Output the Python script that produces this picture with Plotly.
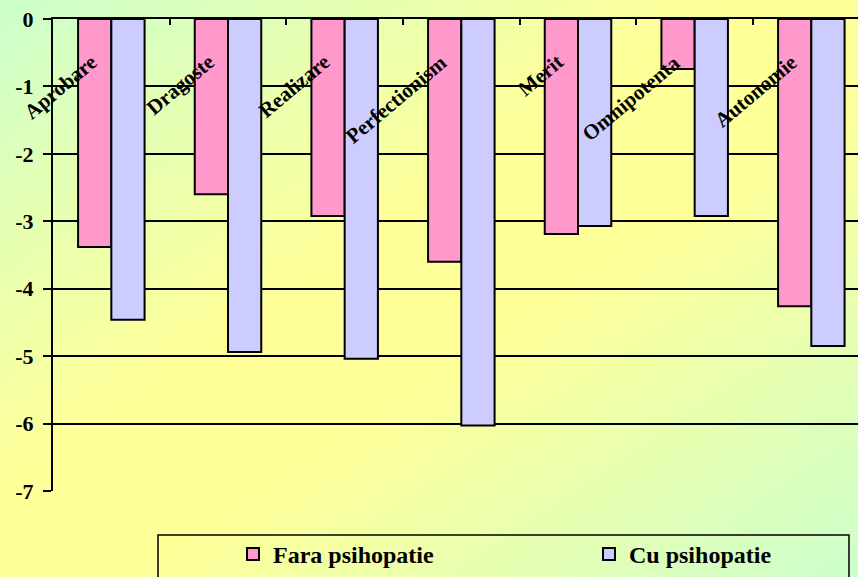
import base64
import plotly.graph_objects as go

# Category names and mean scores for the two groups
categories = ["Aprobare", "Dragoste", "Realizare", "Perfectionism",
              "Merit", "Omnipotenta", "Autonomie"]
fara_psihopatie = [-3.38, -2.60, -2.92, -3.60, -3.19, -0.74, -4.26]
cu_psihopatie = [-4.46, -4.94, -5.04, -6.03, -3.07, -2.92, -4.85]
series_names = ["Fara psihopatie", "Cu psihopatie"]

y_ticks = [0, -1, -2, -3, -4, -5, -6, -7]
y_ticktext = ["0", "-1", "-2", "-3", "-4", "-5", "-6", "-7"]

W, H = 858, 577
FONT = "Liberation Serif, Times New Roman, serif"

# Diagonal green-yellow-green page background as an SVG gradient
svg = (
    '<svg xmlns="http://www.w3.org/2000/svg" width="858" height="577" '
    'preserveAspectRatio="none" viewBox="0 0 858 577">'
    '<defs><linearGradient id="g" x1="0" y1="0" x2="1" y2="1">'
    '<stop offset="0" stop-color="#CCFFCC"/>'
    '<stop offset="0.42" stop-color="#FFFF99"/>'
    '<stop offset="0.58" stop-color="#FFFF99"/>'
    '<stop offset="1" stop-color="#CCFFCC"/>'
    '</linearGradient></defs>'
    '<rect width="858" height="577" fill="url(#g)"/></svg>'
)
bg_uri = "data:image/svg+xml;base64," + base64.b64encode(svg.encode()).decode()

fig = go.Figure()
fig.add_trace(go.Bar(
    x=categories, y=fara_psihopatie, name="<b>" + series_names[0] + "</b>",
    legend="legend",
    marker=dict(color="#FF99CC", line=dict(color="black", width=2)),
))
fig.add_trace(go.Bar(
    x=categories, y=cu_psihopatie, name="<b>" + series_names[1] + "</b>",
    legend="legend2",
    marker=dict(color="#CCCCFF", line=dict(color="black", width=2)),
))

# Rotated category labels hanging just under the zero line
for i, name in enumerate(categories):
    fig.add_annotation(
        x=i, y=0, xref="x", yref="y", text=name, showarrow=False,
        textangle=-40, xanchor="right", yanchor="top",
        xshift=-7, yshift=-28,
        font=dict(family=FONT, size=21, color="black", weight="bold"),
    )

x0 = 53 / W
y_top = 1 - 19 / H
y_bot = 1 - 491 / H

legend_common = dict(
    orientation="h", xanchor="left", yanchor="bottom", y=0,
    bgcolor="rgba(0,0,0,0)", borderwidth=0,
)

fig.update_layout(
    width=W, height=H,
    margin=dict(l=0, r=0, t=0, b=0, autoexpand=False),
    font=dict(family=FONT, color="black"),
    paper_bgcolor="rgba(0,0,0,0)",
    plot_bgcolor="rgba(0,0,0,0)",
    barmode="group", bargap=0.43, bargroupgap=0,
    showlegend=True,
    legend=dict(x=(253 - 20) / W,
                font=dict(family=FONT, size=24, color="black"),
                **legend_common),
    legend2=dict(x=(609 - 20) / W,
                 font=dict(family=FONT, size=24, color="black"),
                 **legend_common),
    images=[dict(
        source=bg_uri, xref="paper", yref="paper", x=0, y=1,
        sizex=1, sizey=1, sizing="stretch", xanchor="left", yanchor="top",
        layer="below",
    )],
    shapes=[dict(
        type="rect", xref="paper", yref="paper",
        x0=158 / W, x1=849 / W, y0=-0.2, y1=1 - 535 / H,
        line=dict(color="black", width=1.5), fillcolor="rgba(0,0,0,0)",
    )],
    xaxis=dict(
        domain=[x0, 1], range=[-0.5, 6.4], side="top", automargin=False,
        showline=True, linecolor="black", linewidth=2,
        ticks="inside", tickson="boundaries", ticklen=6, tickcolor="black", tickwidth=2,
        showticklabels=False, showgrid=False, zeroline=False,
    ),
    yaxis=dict(
        domain=[y_bot, y_top], range=[-7, 0], automargin=False,
        tickvals=y_ticks, ticktext=y_ticktext,
        showline=True, linecolor="black", linewidth=2,
        ticks="outside", ticklen=8, tickcolor="black", tickwidth=2,
        ticklabelstandoff=5,
        showgrid=True, gridcolor="black", gridwidth=1.5, zeroline=False,
        tickfont=dict(family=FONT, size=22, color="black", weight="bold"),
    ),
)

fig.write_html("out.html")
